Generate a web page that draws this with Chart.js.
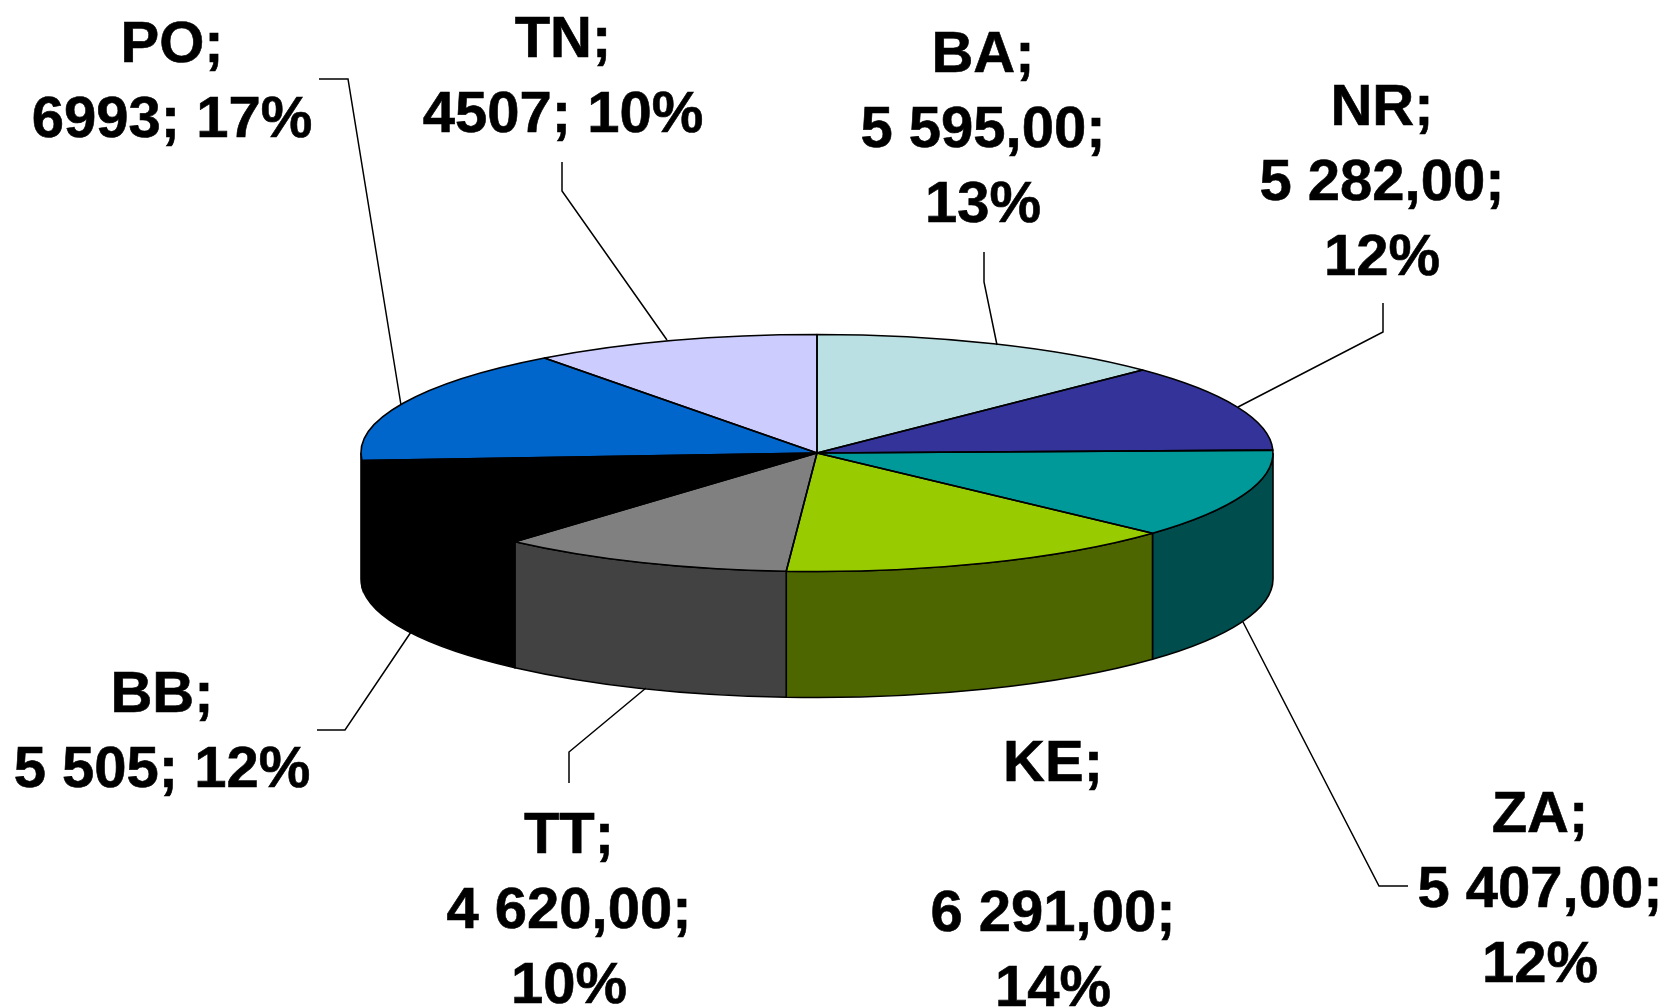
<!DOCTYPE html>
<html>
<head>
<meta charset="utf-8">
<title>Pie</title>
<script src="https://cdn.jsdelivr.net/npm/chart.js@4"></script>
<style>
  html, body { margin: 0; padding: 0; background: #fff; overflow: hidden; }
  canvas { display: block; }
</style>
</head>
<body>
<canvas id="pie" width="1666" height="1007"></canvas>
<script>
const categories = ["BA", "NR", "ZA", "KE", "TT", "BB", "PO", "TN"];
const seriesValues = [5595, 5282, 5407, 6291, 4620, 5505, 6993, 4507];
const topColors = ["#BBE0E3", "#333399", "#009999", "#99CC00", "#808080", "#000000", "#0066CC", "#CCCCFF"];
const sideColors = ["#5E7072", "#1A1A4D", "#004D4D", "#4D6600", "#424242", "#000000", "#003366", "#666680"];
const labelTexts = [
  ["BA;", "5 595,00;", "13%"],
  ["NR;", "5 282,00;", "12%"],
  ["ZA;", "5 407,00;", "12%"],
  ["KE;", "", "6 291,00;", "14%"],
  ["TT;", "4 620,00;", "10%"],
  ["BB;", "5 505; 12%"],
  ["PO;", "6993; 17%"],
  ["TN;", "4507; 10%"],
];

// label anchors: centre x and first baseline
const labelAnchors = [
  [983, 72], [1382, 125], [1540, 832], [1053, 781],
  [569, 853], [162, 712], [172, 62], [563, 57],
];
const lineHeight = 75;

const leaderLines = [
  [[984, 252], [984, 282], [997, 345]],
  [[1383, 303], [1383, 332], [1238, 407]],
  [[1243, 622], [1379, 886], [1408, 886]],
  [],
  [[646, 688], [569, 752], [569, 783]],
  [[411, 632], [345, 730], [317, 730]],
  [[319, 79], [348, 79], [401, 405]],
  [[562, 162], [562, 191], [667, 340]],
];

const pieCenterY = 453;
const flatRadiusY = 118.5;
const wallHeight = 126;

function wallRange(arc) {
  const from = Math.max(arc.startAngle, 0);
  const to = Math.min(arc.endAngle, Math.PI);
  return to > from ? [from, to] : null;
}

const tiltPlugin = {
  id: "tilt",
  beforeDatasetsDraw(chart) {
    const ctx = chart.ctx;
    const arcs = chart.getDatasetMeta(0).data;
    const first = arcs[0];
    const rx = first.outerRadius;

    ctx.save();
    ctx.strokeStyle = "#000";
    ctx.lineWidth = 1.6;
    arcs.forEach((arc, i) => {
      const range = wallRange(arc);
      if (!range) {
        return;
      }
      ctx.beginPath();
      ctx.ellipse(arc.x, pieCenterY, rx, flatRadiusY, 0, range[0], range[1]);
      ctx.ellipse(arc.x, pieCenterY + wallHeight, rx, flatRadiusY, 0, range[1], range[0], true);
      ctx.closePath();
      ctx.fillStyle = sideColors[i];
      ctx.fill();
      ctx.stroke();
    });
    ctx.restore();

    // squash the pie itself into the top face of the disc
    ctx.save();
    ctx.translate(0, pieCenterY);
    ctx.scale(1, flatRadiusY / rx);
    ctx.translate(0, -first.y);
  },
  afterDatasetsDraw(chart) {
    const ctx = chart.ctx;
    ctx.restore();

    const arcs = chart.getDatasetMeta(0).data;
    ctx.save();
    ctx.strokeStyle = "#000";
    ctx.lineWidth = 1.6;
    ctx.lineJoin = "round";
    arcs.forEach((arc) => {
      ctx.beginPath();
      ctx.moveTo(arc.x, pieCenterY);
      ctx.ellipse(arc.x, pieCenterY, arc.outerRadius, flatRadiusY, 0, arc.startAngle, arc.endAngle);
      ctx.closePath();
      ctx.stroke();
    });
    ctx.restore();
  },
};

const labelPlugin = {
  id: "labels",
  afterDraw(chart) {
    const ctx = chart.ctx;
    ctx.save();
    ctx.strokeStyle = "#000";
    ctx.lineWidth = 1.5;
    leaderLines.forEach((points) => {
      if (!points.length) {
        return;
      }
      ctx.beginPath();
      points.forEach((p, i) => (i ? ctx.lineTo(p[0], p[1]) : ctx.moveTo(p[0], p[1])));
      ctx.stroke();
    });

    ctx.fillStyle = "#000";
    ctx.font = 'bold 58px "Liberation Sans", Arial, sans-serif';
    ctx.fontKerning = "none";
    ctx.textAlign = "center";
    ctx.textBaseline = "alphabetic";
    ctx.lineWidth = 0.6;
    labelTexts.forEach((lines, i) => {
      const [x, y] = labelAnchors[i];
      lines.forEach((line, n) => {
        ctx.fillText(line, x, y + n * lineHeight);
        ctx.strokeText(line, x, y + n * lineHeight);
      });
    });
    ctx.restore();
  },
};

new Chart(document.getElementById("pie").getContext("2d"), {
  type: "pie",
  data: {
    labels: categories,
    datasets: [
      {
        data: seriesValues,
        backgroundColor: topColors,
        borderWidth: 0,
      },
    ],
  },
  options: {
    responsive: false,
    animation: false,
    layout: {
      padding: { left: 361, right: 393, top: 47, bottom: 48 },
    },
    plugins: {
      legend: { display: false },
      tooltip: { enabled: false },
    },
  },
  plugins: [tiltPlugin, labelPlugin],
});
</script>
</body>
</html>
